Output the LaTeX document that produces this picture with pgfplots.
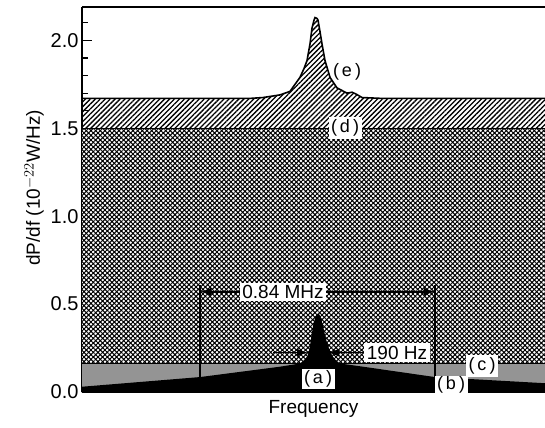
\documentclass[border=0pt]{standalone}
\usepackage{fontspec}
\setmainfont{Liberation Sans}
\usepackage{pgfplots}
\pgfplotsset{compat=1.18}
\usepackage{pgfplotstable}
\usetikzlibrary{patterns.meta,arrows.meta}

% x is in arbitrary frequency units (no ticks on the original)
\pgfplotstableread{
x y
0 1.67
168 1.67
181 1.675
198 1.69
208 1.71
218 1.79
222 1.84
225 1.885
228 1.98
230 2.07
232 2.115
233 2.13
235 2.125
236 2.115
238 2.05
240 1.98
243 1.885
248 1.79
255 1.73
265 1.70
270 1.705
274 1.695
280 1.675
300 1.67
463 1.67
}\curvee

\pgfplotstableread{
x y
0 0.03
118 0.085
198 0.144
218 0.162
222 0.18
225 0.20
227 0.23
229 0.30
231 0.374
233 0.42
235 0.445
237 0.445
239 0.42
241 0.374
244 0.30
248 0.23
251 0.20
254 0.18
258 0.162
281 0.144
353 0.085
463 0.05
}\curveab

\begin{document}
\begin{tikzpicture}[lbl/.style={fill=white, inner sep=2.5pt, font=\fontsize{19}{22}\selectfont}]
\begin{axis}[
  scale only axis, width=463pt, height=385pt,
  xmin=0, xmax=463, ymin=0, ymax=2.19,
  separate axis lines,
  axis x line*=box, axis y line*=left,
  axis line style={line width=1.4pt},
  xtick=\empty,
  ytick={0,0.5,1.0,1.5,2.0}, minor ytick={0.1,0.2,...,2.1},
  yticklabel style={/pgf/number format/fixed, /pgf/number format/fixed zerofill,
    /pgf/number format/precision=1, font=\fontsize{20}{23}\selectfont},
  /pgf/number format/assume math mode=true,
  tick align=inside, major tick length=10pt, minor tick length=6pt,
  tick style={line width=1.1pt, black},
  ylabel={dP/df (10$^{-22}$W/Hz)},
  ylabel style={font=\fontsize{19}{22}\selectfont, at={(ticklabel cs:0.53)}},
  xlabel={Frequency},
  xlabel style={font=\fontsize{19}{22}\selectfont, yshift=-5pt},
  clip=true,
]
% (e) area
\addplot[draw=none, pattern={Lines[angle=45,distance=3.5pt,line width=1.3pt]}] table {\curvee} \closedcycle;
\addplot[black, line width=1.6pt] table {\curvee};
% (d) area
\addplot[draw=none, preaction={fill=white}, pattern={Hatch[angle=45,distance=3.3pt,line width=1.0pt]}] coordinates {(0,1.5) (463,1.5)} \closedcycle;
\addplot[black, line width=1.6pt] coordinates {(0,1.5) (463,1.5)};
% (c) level
\addplot[draw=none, fill=black!42] coordinates {(0,0.16) (463,0.16)} \closedcycle;
\addplot[black, line width=1.1pt] coordinates {(0,0.16) (463,0.16)};
% (b) + (a)
\addplot[draw=none, fill=black] table {\curveab} \closedcycle;
% markers of the 0.84 MHz span
\addplot[black, line width=1.6pt] coordinates {(118,0.61) (118,0.085)};
\addplot[black, line width=1.6pt] coordinates {(353,0.61) (353,0)};

\draw[line width=1.6pt, {Latex[length=11pt,width=8pt]}-{Latex[length=11pt,width=8pt]}]
  (axis cs:118,0.57) -- (axis cs:353,0.57);
\node[lbl] at (axis cs:201,0.57) {0.84 MHz};

\draw[line width=1.6pt, -{Latex[length=11pt,width=8pt]}] (axis cs:191,0.224) -- (axis cs:226,0.224);
\draw[line width=1.6pt, -{Latex[length=11pt,width=8pt]}] (axis cs:281,0.224) -- (axis cs:246,0.224);
\node[lbl] at (axis cs:315,0.224) {190 Hz};

\node[font=\fontsize{18}{21}\selectfont] at (axis cs:265,1.82) {(\,e\,)};
\node[lbl, font=\fontsize{18}{21}\selectfont] at (axis cs:263,1.5) {(\,d\,)};
\node[lbl, font=\fontsize{18}{21}\selectfont] at (axis cs:400,0.15) {(\,c\,)};
\node[lbl, font=\fontsize{18}{21}\selectfont, inner ysep=1pt] at (axis cs:369,0.04) {(\,b\,)};
\node[lbl, font=\fontsize{18}{21}\selectfont, inner ysep=1.5pt] at (axis cs:236,0.075) {(\,a\,)};
\end{axis}
\pgfresetboundingbox
\path ([shift={(-82pt,-35pt)}]current axis.south west) rectangle ([shift={(0pt,7pt)}]current axis.north east);
\end{tikzpicture}
\end{document}
